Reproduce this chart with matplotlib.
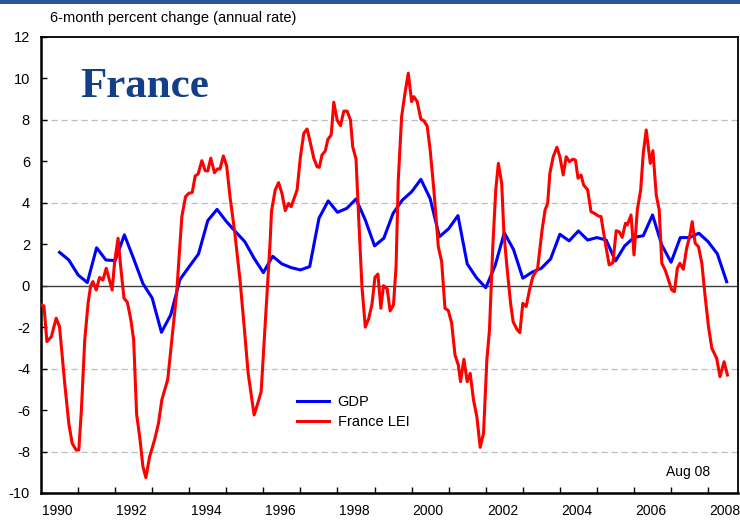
import numpy as np
import matplotlib
matplotlib.use("Agg")
import matplotlib.pyplot as plt
from matplotlib.patches import Rectangle

plt.rcParams["font.family"] = ["Liberation Sans", "DejaVu Sans"]

# ----------------------------
# Data
# ----------------------------
# GDP, quarterly from 1990 Q3
gdp_start = 1990.5
gdp = [1.61, 1.24, 0.52, 0.15, 1.83, 1.24, 1.21, 2.45, 1.30, 0.10,
       -0.60, -2.25, -1.41, 0.30, 0.92, 1.53, 3.14, 3.68, 3.10, 2.60,
       2.12, 1.32, 0.63, 1.42, 1.05, 0.87, 0.76, 0.92, 3.25, 4.09,
       3.54, 3.73, 4.18, 3.17, 1.92, 2.29, 3.49, 4.13, 4.53, 5.13,
       4.20, 2.36, 2.75, 3.38, 1.05, 0.38, -0.10, 0.95, 2.55, 1.74,
       0.36, 0.65, 0.84, 1.29, 2.48, 2.16, 2.64, 2.20, 2.32, 2.20,
       1.19, 1.92, 2.33, 2.41, 3.41, 1.96, 1.13, 2.32, 2.32, 2.53,
       2.12, 1.53, 0.19]

# France LEI, (decimal year, value)
lei_years = [
    1990.01, 1990.08, 1990.16, 1990.28, 1990.41, 1990.50, 1990.64, 1990.75,
    1990.84, 1990.95, 1991.02, 1991.09, 1991.18, 1991.27, 1991.34, 1991.40,
    1991.49, 1991.58, 1991.67, 1991.76, 1991.92, 1991.99, 1992.08, 1992.15,
    1992.24, 1992.33, 1992.42, 1992.50, 1992.58, 1992.67, 1992.75, 1992.83,
    1992.93, 1993.07, 1993.17, 1993.26, 1993.42, 1993.53, 1993.66, 1993.80,
    1993.90, 1993.99, 1994.08, 1994.16, 1994.24, 1994.34, 1994.43, 1994.50,
    1994.58, 1994.68, 1994.76, 1994.83, 1994.92, 1995.01, 1995.10, 1995.23,
    1995.37, 1995.49, 1995.59, 1995.75, 1995.85, 1995.94, 1996.04, 1996.18,
    1996.22, 1996.32, 1996.41, 1996.50, 1996.59, 1996.68, 1996.75, 1996.91,
    1997.00, 1997.09, 1997.18, 1997.27, 1997.36, 1997.45, 1997.51, 1997.58,
    1997.67, 1997.74, 1997.83, 1997.90, 1997.99, 1998.08, 1998.17, 1998.26,
    1998.35, 1998.41, 1998.50, 1998.57, 1998.66, 1998.75, 1998.84, 1998.93,
    1999.01, 1999.09, 1999.17, 1999.24, 1999.34, 1999.42, 1999.51, 1999.58,
    1999.64, 1999.73, 1999.82, 1999.91, 2000.00, 2000.06, 2000.15, 2000.25,
    2000.33, 2000.42, 2000.50, 2000.60, 2000.72, 2000.81, 2000.90, 2000.99,
    2001.08, 2001.17, 2001.26, 2001.32, 2001.41, 2001.50, 2001.58, 2001.67,
    2001.76, 2001.85, 2001.94, 2002.03, 2002.10, 2002.19, 2002.27, 2002.34,
    2002.43, 2002.49, 2002.58, 2002.67, 2002.74, 2002.84, 2002.92, 2003.00,
    2003.09, 2003.18, 2003.27, 2003.40, 2003.52, 2003.60, 2003.67, 2003.73,
    2003.82, 2003.92, 2004.00, 2004.09, 2004.17, 2004.26, 2004.35, 2004.42,
    2004.49, 2004.57, 2004.64, 2004.75, 2004.84, 2004.93, 2005.04, 2005.11,
    2005.22, 2005.33, 2005.43, 2005.52, 2005.60, 2005.68, 2005.77, 2005.82,
    2005.92, 2006.00, 2006.09, 2006.18, 2006.25, 2006.33, 2006.44, 2006.51,
    2006.60, 2006.68, 2006.75, 2006.84, 2006.93, 2007.02, 2007.09, 2007.17,
    2007.24, 2007.33, 2007.42, 2007.51, 2007.57, 2007.65, 2007.74, 2007.83,
    2007.92, 2008.01, 2008.10, 2008.23, 2008.32, 2008.43, 2008.52]
lei = [
    -0.93, -0.98, -2.70, -2.46, -1.57, -1.98, -4.71, -6.64,
    -7.60, -7.93, -7.93, -6.00, -2.62, -0.85, -0.01, 0.20,
    -0.21, 0.40, 0.27, 0.84, -0.21, 1.20, 2.29, 0.92,
    -0.61, -0.80, -1.60, -2.60, -6.20, -7.40, -8.73, -9.26,
    -8.25, -7.40, -6.64, -5.51, -4.52, -2.62, -0.37, 3.33,
    4.29, 4.46, 4.49, 5.29, 5.39, 6.03, 5.55, 5.53,
    6.15, 5.45, 5.63, 5.63, 6.26, 5.77, 4.29, 2.53,
    0.27, -2.14, -4.23, -6.24, -5.67, -5.11, -2.14, 2.05,
    3.60, 4.62, 4.97, 4.46, 3.62, 3.97, 3.81, 4.62,
    6.22, 7.35, 7.56, 6.87, 6.15, 5.74, 5.71, 6.30,
    6.50, 7.06, 7.27, 8.85, 7.99, 7.72, 8.42, 8.42,
    7.99, 6.71, 6.10, 3.33, -0.05, -2.00, -1.60, -0.90,
    0.40, 0.56, -1.09, 0.00, -0.15, -1.22, -0.93, 0.92,
    5.10, 8.15, 9.28, 10.25, 8.88, 9.12, 8.88, 8.03,
    7.96, 7.70, 6.55, 4.62, 1.88, 1.16, -1.09, -1.20,
    -1.81, -3.34, -3.83, -4.63, -3.55, -4.63, -4.23, -5.51,
    -6.32, -7.80, -7.12, -3.58, -2.14, 1.88, 4.62, 5.90,
    4.94, 2.53, 0.76, -0.85, -1.75, -2.10, -2.27, -0.85,
    -1.01, -0.21, 0.43, 0.84, 2.69, 3.65, 3.97, 5.42,
    6.22, 6.68, 6.22, 5.34, 6.22, 5.98, 6.10, 6.06,
    5.18, 5.34, 4.86, 4.62, 3.57, 3.49, 3.36, 3.33,
    2.12, 1.00, 1.11, 2.65, 2.60, 2.33, 3.01, 2.93,
    3.41, 1.48, 3.65, 4.62, 6.39, 7.51, 5.90, 6.51,
    4.38, 3.65, 1.08, 0.76, 0.27, -0.21, -0.29, 0.84,
    1.08, 0.79, 1.80, 2.45, 3.09, 2.05, 1.88, 1.08,
    -0.53, -1.98, -3.02, -3.50, -4.39, -3.67, -4.31]

year_labels = list(range(1990, 2009, 2))
y_ticks = list(range(-10, 13, 2))
grid_levels = [-8, -4, 4, 8]

gdp_years = gdp_start + 0.25 * np.arange(len(gdp))

# ----------------------------
# Plot
# ----------------------------
fig = plt.figure(figsize=(7.4, 5.2), dpi=100)
ax = fig.add_axes([0.0554, 0.052, 0.9416, 0.877])

# top banner
fig.patches.append(Rectangle((0, 0.992), 1, 0.008, transform=fig.transFigure,
                             facecolor="#2d5596", edgecolor="none"))

for g in grid_levels:
    ax.axhline(g, color="#bdbdbd", lw=0.9, ls=(0, (5, 3)), zorder=1)
ax.axhline(0, color="#3c3c3c", lw=1.0, zorder=2)

ax.plot(gdp_years, gdp, color="#0000ff", lw=2.2, label="GDP", zorder=3)
ax.plot(lei_years, lei, color="#ff0000", lw=2.2, label="France LEI", zorder=4)

ax.set_xlim(1990.0, 2008.8)
ax.set_ylim(-10, 12)

ax.set_yticks(y_ticks)
ax.set_yticklabels([str(v) for v in y_ticks])
ax.tick_params(axis="y", direction="in", length=4, width=1, pad=8, labelsize=10.5)

ax.set_xticks(list(range(1991, 2009)))
ax.set_xticklabels([])
ax.tick_params(axis="x", which="major", direction="in", length=4, width=1)
ax.set_xticks([y + 0.45 for y in year_labels], minor=True)
ax.set_xticklabels([str(y) for y in year_labels], minor=True)
ax.tick_params(axis="x", which="minor", length=0, pad=8, labelsize=10)

for side in ["left", "bottom"]:
    ax.spines[side].set_linewidth(1.8)
for side in ["top", "right"]:
    ax.spines[side].set_linewidth(1.3)

ax.legend(loc="upper left", bbox_to_anchor=(0.367, 0.215), frameon=False,
          fontsize=10.5, handlelength=2.2, handletextpad=0.6,
          labelspacing=0.45, borderpad=0, borderaxespad=0)

ax.text(0.056, 0.868, "France", transform=ax.transAxes, family="Liberation Serif",
        fontweight="bold", fontsize=31, color="#123f86", va="baseline", ha="left")
ax.text(0.96, 0.046, "Aug 08", transform=ax.transAxes, fontsize=10,
        ha="right", va="center")

fig.text(50 / 740, 1 - 18 / 520, "6-month percent change (annual rate)",
         fontsize=10.5, ha="left", va="center")

fig.savefig("out.png", dpi=100)
